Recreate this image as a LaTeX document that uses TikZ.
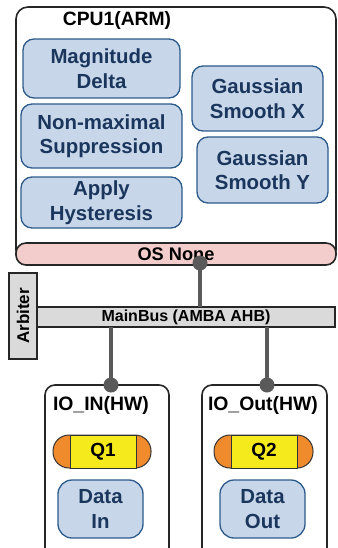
\documentclass[tikz,border=0pt]{standalone}
\usepackage{fontspec}
\setmainfont{Liberation Sans}
\begin{document}
\begin{tikzpicture}[x=1pt,y=-1pt,
  every node/.style={font=\bfseries, inner sep=0pt, outer sep=0pt},
  taskbox/.style={draw=taskedge, fill=taskfill, line width=1.3pt, rounded corners=11pt,
    align=center, text=tasktext, font=\fontsize{20.4}{24.5}\selectfont\bfseries},
  frame/.style={draw=black!85, line width=1.6pt, rounded corners=12pt},
  link/.style={draw=linkgray, line width=4.5pt},
  joint/.style={circle, fill=linkgray, minimum size=15pt},
  qend/.style={fill=qorange, draw=black!80, line width=1pt},
  qmid/.style={fill=qyellow, draw=black!80, line width=1pt, font=\fontsize{19}{22}\selectfont\bfseries}
]
\definecolor{taskfill}{HTML}{C7D7E9}
\definecolor{taskedge}{HTML}{2C5A8A}
\definecolor{tasktext}{HTML}{1B365D}
\definecolor{osfill}{HTML}{F2CDCB}
\definecolor{busfill}{HTML}{DADADA}
\definecolor{linkgray}{HTML}{5A5A5A}
\definecolor{qorange}{HTML}{EF8A2D}
\definecolor{qyellow}{HTML}{F4EA1C}
\useasboundingbox (0,0) rectangle (337,548);
\clip (0,0) rectangle (337,548);

% CPU frame and its OS strip
\node[frame, minimum width=320pt, minimum height=255pt] (cpu) at (176,134.5) {};
\node[draw=black!85, fill=osfill, line width=1.6pt, rounded corners=10pt,
  minimum width=320pt, minimum height=22pt,
  font=\fontsize{18.2}{20}\selectfont\bfseries] (os) at (176,254) {OS None};
\node[font=\fontsize{19.3}{22}\selectfont\bfseries] (cputitle) at (117,21) {CPU1(ARM)};

% software tasks
\node[taskbox, minimum width=157pt, minimum height=59pt] (mag) at (101.5,68.5) {Magnitude\\Delta};
\node[taskbox, minimum width=161pt, minimum height=64pt] (nms) at (101.5,136) {Non-maximal\\Suppression};
\node[taskbox, minimum width=161pt, minimum height=51pt] (hyst) at (101.5,202.5) {Apply\\Hysteresis};
\node[taskbox, minimum width=131pt, minimum height=65pt] (gx) at (257.5,98.5) {Gaussian\\Smooth X};
\node[taskbox, minimum width=131pt, minimum height=66pt] (gy) at (262.5,170) {Gaussian\\Smooth Y};

% bus and arbiter
\node[draw=black!85, fill=busfill, line width=1.3pt, minimum width=298pt, minimum height=20pt,
  font=\fontsize{16}{18}\selectfont\bfseries] (bus) at (186,317) {MainBus (AMBA AHB)};
\node[draw=black!85, fill=busfill, line width=2pt, minimum width=28pt, minimum height=86pt] (arb) at (23,316) {};
\node[rotate=90, font=\fontsize{17}{19}\selectfont\bfseries] (arbtext) at (arb.center) {Arbiter};

% hardware IO blocks
\node[frame, rounded corners=10pt, minimum width=124pt, minimum height=180pt] (ioin) at (107,475) {};
\node[frame, rounded corners=10pt, minimum width=125pt, minimum height=180pt] (ioout) at (264.5,475) {};
\node[anchor=west, font=\fontsize{19.4}{22}\selectfont\bfseries] (ioinlbl) at (53,405) {IO\_IN(HW)};
\node[anchor=west, font=\fontsize{19.4}{22}\selectfont\bfseries] (iooutlbl) at (208,405) {IO\_Out(HW)};

% queues
\node[qend, rounded corners=16pt, minimum width=98pt, minimum height=33pt] (q1cap) at (102,451.5) {};
\node[qmid, minimum width=66pt, minimum height=33pt] (q1) at (103,451.5) {Q1};
\node[qend, rounded corners=16pt, minimum width=99pt, minimum height=33pt] (q2cap) at (263.5,451.5) {};
\node[qmid, minimum width=66pt, minimum height=33pt] (q2) at (264,451.5) {Q2};

\node[taskbox, rounded corners=14pt, minimum width=85pt, minimum height=58pt] (din) at (100.5,509) {Data\\In};
\node[taskbox, rounded corners=14pt, minimum width=85pt, minimum height=58pt] (dout) at (262.5,509) {Data\\Out};

% connections
\coordinate (osport) at (200,263);
\coordinate (inport) at (111,385);
\coordinate (outport) at (267,385);
\draw[link] (osport) -- (bus.north -| osport);
\draw[link] (bus.south -| inport) -- (inport);
\draw[link] (bus.south -| outport) -- (outport);
\node[joint] (j1) at (osport) {};
\node[joint] (j2) at (inport) {};
\node[joint] (j3) at (outport) {};
\end{tikzpicture}
\end{document}
